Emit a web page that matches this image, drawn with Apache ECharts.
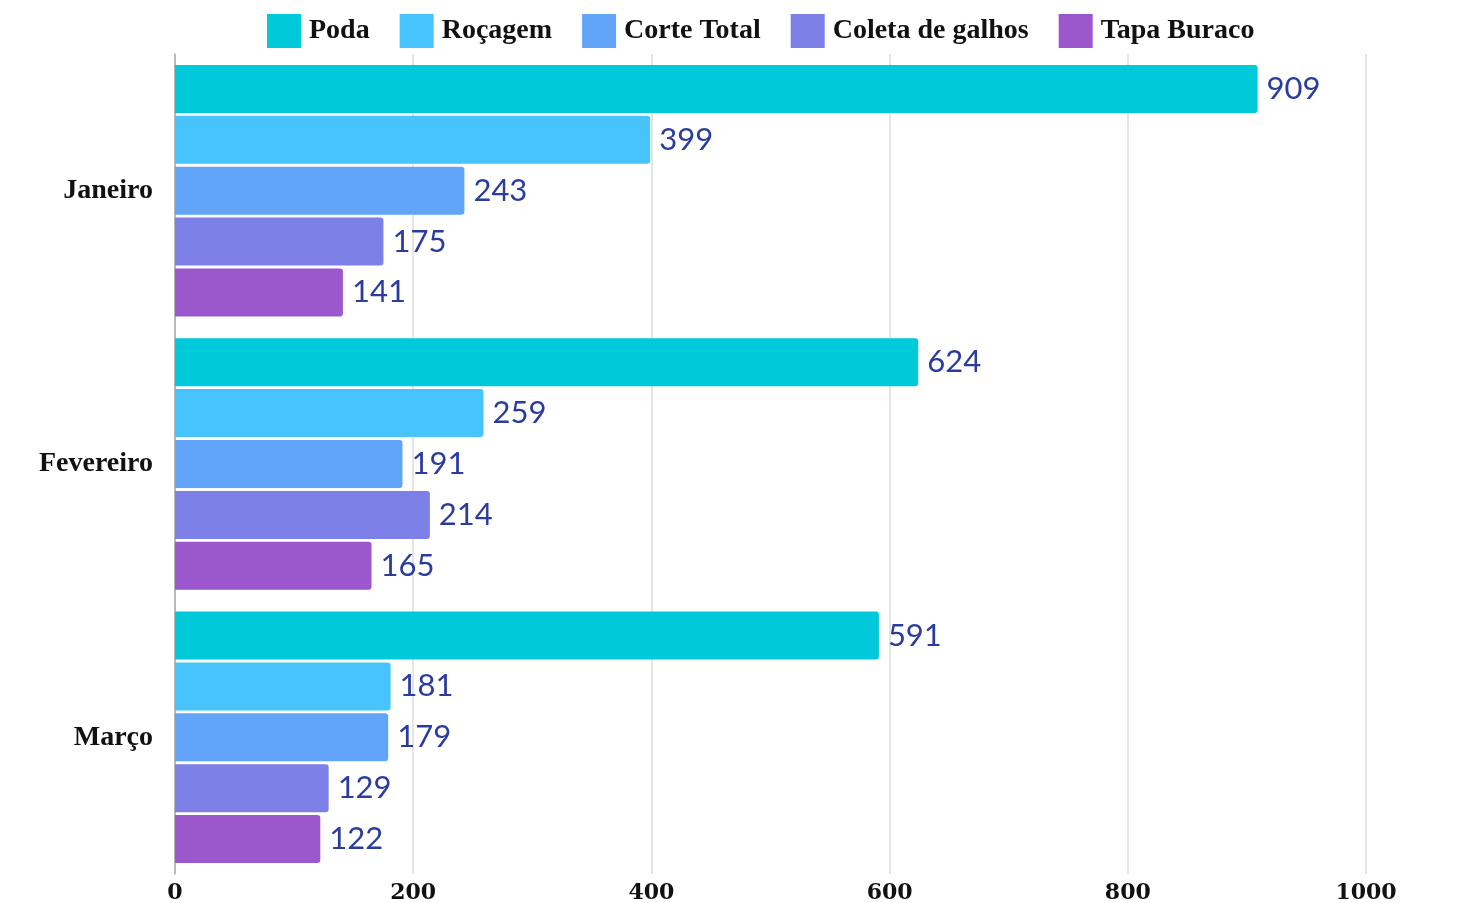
<!DOCTYPE html>
<html>
<head>
<meta charset="utf-8">
<script src="https://cdn.jsdelivr.net/npm/echarts@6/dist/echarts.min.js"></script>
<style>
  html, body { margin: 0; padding: 0; background: #fff; }
  #main { width: 1457px; height: 903px; }
</style>
</head>
<body>
<div id="main"></div>
<script>
const months = ['Janeiro', 'Fevereiro', 'Março'];
const seriesNames = ['Poda', 'Roçagem', 'Corte Total', 'Coleta de galhos', 'Tapa Buraco'];
const poda = [909, 624, 591];
const rocagem = [399, 259, 181];
const corteTotal = [243, 191, 179];
const coletaGalhos = [175, 214, 129];
const tapaBuraco = [141, 165, 122];
const colors = ['#00C9DA', '#48C4FC', '#62A5F8', '#7D80E6', '#9B57CB'];

const chart = echarts.init(document.getElementById('main'));

const values = [poda, rocagem, corteTotal, coletaGalhos, tapaBuraco];

var option = {
  color: colors,
  legend: {
    top: 9,
    left: 262,
    itemWidth: 34,
    itemHeight: 34,
    itemGap: 30,
    icon: 'rect',
    textStyle: {
      fontFamily: 'Liberation Serif',
      fontWeight: 'bold',
      fontSize: 28,
      color: '#111',
      padding: [0, 0, 0, 3]
    },
    data: seriesNames
  },
  grid: {
    left: 175,
    right: 91,
    top: 54,
    bottom: 29,
    outerBoundsMode: 'none',
    containLabel: false
  },
  xAxis: {
    type: 'value',
    min: 0,
    max: 1000,
    interval: 200,
    axisLine: { show: false },
    axisTick: { show: false },
    splitLine: { lineStyle: { color: '#dcdcdc', width: 1.5 } },
    axisLabel: {
      margin: 8,
      fontFamily: 'DejaVu Serif',
      fontWeight: 'bold',
      fontSize: 22,
      color: '#111',
      formatter: function (v) { return String(v); }
    }
  },
  yAxis: {
    type: 'category',
    inverse: true,
    data: months,
    axisLine: { show: true, lineStyle: { color: '#aaa', width: 1.5 } },
    axisTick: { show: false },
    axisLabel: {
      margin: 22,
      fontFamily: 'Liberation Serif',
      fontWeight: 'bold',
      fontSize: 28,
      color: '#111'
    }
  },
  series: seriesNames.map(function (name, i) {
    return {
      name: name,
      type: 'bar',
      data: values[i],
      barWidth: 48,
      barGap: '6%',
      itemStyle: { borderRadius: [0, 3, 3, 0] },
      label: {
        show: true,
        position: 'right',
        distance: 9,
        fontFamily: 'Lato',
        fontSize: 31,
        color: '#2B3C9F'
      }
    };
  })
};

chart.setOption(option);
</script>
</body>
</html>
